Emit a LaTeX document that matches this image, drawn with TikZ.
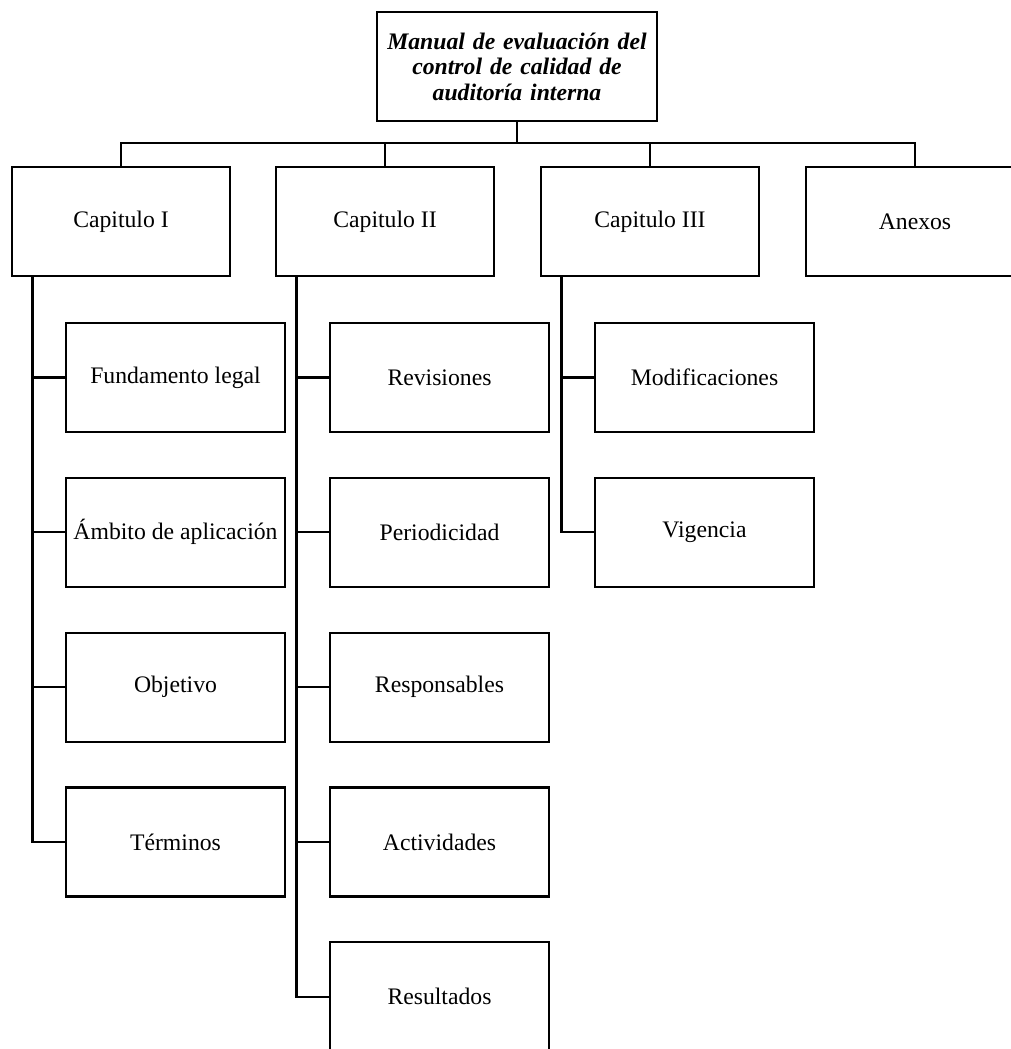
\documentclass[tikz,border=0pt]{standalone}
\usepackage{fontspec}
\setmainfont{Liberation Serif}
\begin{document}
\begin{tikzpicture}[x=1pt,y=-1pt,
  box/.style={draw=black, fill=white, line width=2.2pt, minimum width=218pt, minimum height=109pt,
    inner sep=0pt, align=center, font=\fontsize{23.7}{25.5}\selectfont},
  sub/.style={box, minimum width=219pt},
  conn/.style={draw=black, line width=2.2pt}]
\useasboundingbox[fill=white] (0,0) rectangle (1011,1049);
% top
\node[box, minimum width=280pt, text width=276pt, font=\fontsize{23.7}{25.5}\selectfont\bfseries\itshape] (top) at (517,66.5)
  {Manual de evaluación del\\control de calidad de\\auditoría interna};
% chapters
\node[box] (c1) at (121,221.5) {Capitulo I};
\node[box] (c2) at (385,221.5) {Capitulo II};
\node[box] (c3) at (650,221.5) {Capitulo III};
\node[box] (an) at (915,221.5) {Anexos};
% chapter I children
\node[sub] (f1) at (175.5,377.5) {Fundamento legal};
\node[sub] (f2) at (175.5,532.3) {Ámbito de aplicación};
\node[sub] (f3) at (175.5,687.1) {Objetivo};
\node[sub] (f4) at (175.5,841.9) {Términos};
% chapter II children
\node[sub] (g1) at (439.5,377.5) {Revisiones};
\node[sub] (g2) at (439.5,532.3) {Periodicidad};
\node[sub] (g3) at (439.5,687.1) {Responsables};
\node[sub] (g4) at (439.5,841.9) {Actividades};
\node[sub] (g5) at (439.5,996.7) {Resultados};
% chapter III children
\node[sub] (h1) at (704.5,377.5) {Modificaciones};
\node[sub] (h2) at (704.5,532.3) {Vigencia};
% bus
\coordinate (bus) at (517,143);
\draw[conn] (top.south) -- (bus);
\draw[conn] (c1.north) |- (an.north |- bus) -- (an.north);
\draw[conn] (c2.north) -- (c2.north |- bus);
\draw[conn] (c3.north) -- (c3.north |- bus);
% trunks
\coordinate (k1) at ([xshift=21.5pt]c1.south west);
\coordinate (k2) at ([xshift=21.5pt]c2.south west);
\coordinate (k3) at ([xshift=21.5pt]c3.south west);
\draw[conn] (k1) |- (f4.west);
\draw[conn] (k1 |- f1.west) -- (f1.west);
\draw[conn] (k1 |- f2.west) -- (f2.west);
\draw[conn] (k1 |- f3.west) -- (f3.west);
\draw[conn] (k2) |- (g5.west);
\draw[conn] (k2 |- g1.west) -- (g1.west);
\draw[conn] (k2 |- g2.west) -- (g2.west);
\draw[conn] (k2 |- g3.west) -- (g3.west);
\draw[conn] (k2 |- g4.west) -- (g4.west);
\draw[conn] (k3) |- (h2.west);
\draw[conn] (k3 |- h1.west) -- (h1.west);
\end{tikzpicture}
\end{document}
